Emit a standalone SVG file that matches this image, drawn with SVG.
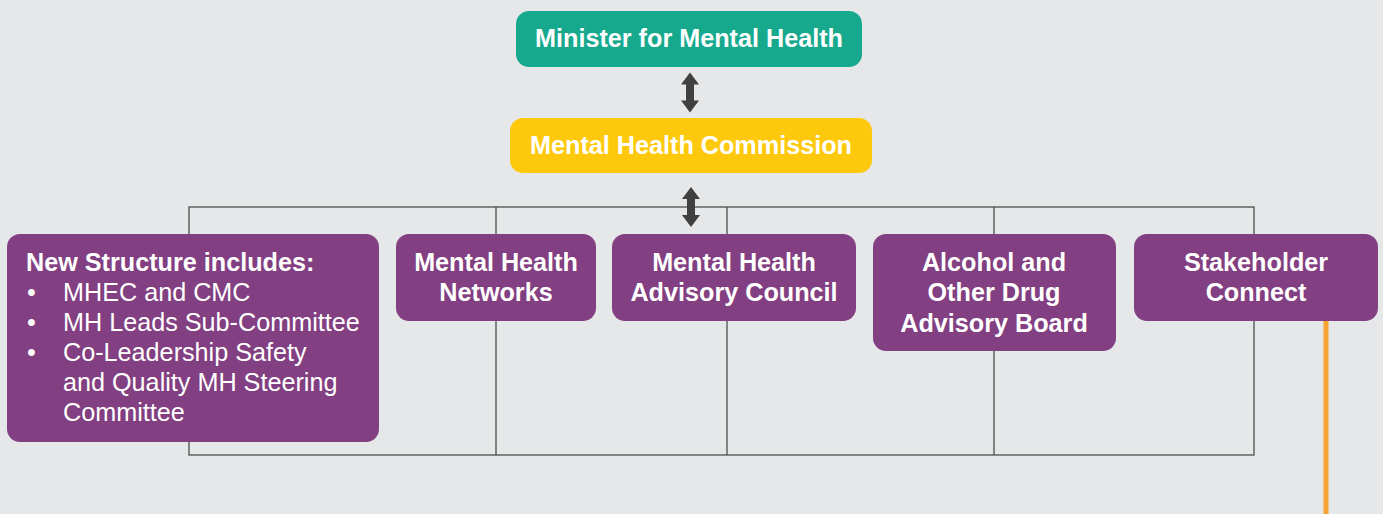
<svg xmlns="http://www.w3.org/2000/svg" width="1383" height="514" viewBox="0 0 1383 514">
  <style>
    .t { font-family: "Liberation Sans", Arial, sans-serif; font-size: 25.2px; fill: #ffffff; }
    .b { font-weight: bold; }
    .c { text-anchor: middle; }
    .frame { fill: none; stroke: #4d4d4d; stroke-width: 1.3; }
    .purple { fill: #823f81; }
    .dbl { fill: #404040; }
  </style>
  <defs>
    <!-- double-headed block arrow, centred at origin, 40px tall -->
    <path id="dblArrow" d="M0,-20 L9,-8 L4,-8 L4,8 L9,8 L0,20 L-9,8 L-4,8 L-4,-8 L-9,-8 Z"/>
  </defs>

  <rect width="1383" height="514" fill="#e6e7e9"/>

  <!-- connectors -->
  <g id="connectors">
    <rect class="frame" x="189" y="207" width="1065" height="248"/>
    <line class="frame" x1="496" y1="207" x2="496" y2="455"/>
    <line class="frame" x1="727" y1="207" x2="727" y2="455"/>
    <line class="frame" x1="994" y1="207" x2="994" y2="455"/>
    <line x1="1326" y1="320" x2="1326" y2="514" stroke="#f6a433" stroke-width="5"/>
    <use href="#dblArrow" class="dbl" x="690" y="92.5"/>
    <use href="#dblArrow" class="dbl" x="691" y="207"/>
  </g>

  <g id="minister">
    <rect x="516" y="11" width="346" height="56" rx="13" fill="#17a98d"/>
    <text class="t b c" x="689" y="47">Minister for Mental Health</text>
  </g>

  <g id="commission">
    <rect x="510" y="118" width="362" height="55" rx="13" fill="#fec90d"/>
    <text class="t b c" x="691" y="154">Mental Health Commission</text>
  </g>

  <g id="new-structure">
    <rect class="purple" x="7" y="234" width="372" height="208" rx="13"/>
    <text class="t b" x="26" y="271">New Structure includes:</text>
    <text class="t" x="27" y="301">•</text>
    <text class="t" x="63" y="301">MHEC and CMC</text>
    <text class="t" x="27" y="331">•</text>
    <text class="t" x="63" y="331">MH Leads Sub-Committee</text>
    <text class="t" x="27" y="361">•</text>
    <text class="t" x="63" y="361">Co-Leadership Safety</text>
    <text class="t" x="63" y="391">and Quality MH Steering</text>
    <text class="t" x="63" y="421">Committee</text>
  </g>

  <g id="networks">
    <rect class="purple" x="396" y="234" width="200" height="87" rx="13"/>
    <text class="t b c" x="496" y="271">Mental Health</text>
    <text class="t b c" x="496" y="301">Networks</text>
  </g>

  <g id="advisory-council">
    <rect class="purple" x="612" y="234" width="244" height="87" rx="13"/>
    <text class="t b c" x="734" y="271">Mental Health</text>
    <text class="t b c" x="734" y="301">Advisory Council</text>
  </g>

  <g id="aod-board">
    <rect class="purple" x="873" y="234" width="243" height="117" rx="13"/>
    <text class="t b c" x="994" y="271">Alcohol and</text>
    <text class="t b c" x="994" y="301">Other Drug</text>
    <text class="t b c" x="994" y="332">Advisory Board</text>
  </g>

  <g id="stakeholder">
    <rect class="purple" x="1134" y="234" width="244" height="87" rx="13"/>
    <text class="t b c" x="1256" y="271">Stakeholder</text>
    <text class="t b c" x="1256" y="301">Connect</text>
  </g>
</svg>
